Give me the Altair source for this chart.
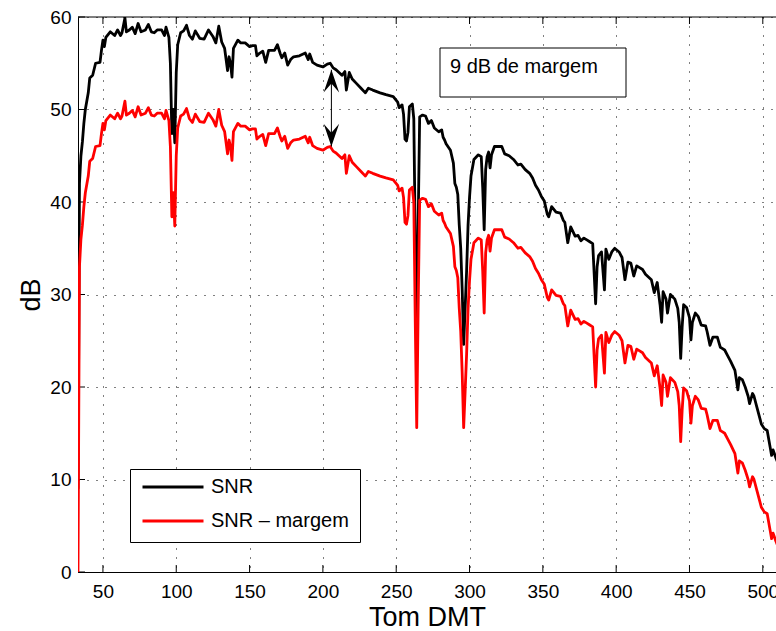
import altair as alt
import pandas as pd

# ---- data ----
TONS = [33, 34, 35, 36, 37, 38, 40, 41, 43, 45, 48, 49, 50, 51, 52, 55, 58, 60, 62, 63,
        65, 66, 68, 70, 72, 74, 76, 79, 81, 83, 85, 87, 90, 92, 93, 95, 96, 97, 98, 99,
        100, 101, 103, 105, 107, 109, 111, 113, 116, 119, 122, 125, 127, 129, 131, 133, 135, 136, 137, 138,
        139, 142, 144, 147, 150, 152, 154, 155, 157, 159, 161, 163, 167, 169, 171, 172, 174, 176, 178, 180,
        184, 188, 190, 191, 193, 196, 200, 203, 205, 207, 209, 211, 213, 215, 216, 218, 220, 223, 226, 229,
        231, 234, 239, 243, 248, 251, 252, 254, 255, 256, 257, 258, 259, 261, 262, 263, 264, 265, 266, 268,
        270, 272, 274, 276, 279, 281, 282, 283, 284, 287, 289, 290, 291, 292, 293, 294, 295, 296, 297, 298,
        299, 300, 301, 303, 306, 308, 309, 310, 311, 312, 313, 314, 315, 317, 322, 324, 327, 330, 333, 335,
        338, 341, 343, 345, 347, 349, 351, 353, 354, 356, 359, 362, 364, 365, 367, 369, 372, 374, 376, 378,
        380, 382, 384, 386, 387, 388, 390, 392, 393, 395, 397, 399, 402, 404, 406, 408, 410, 412, 414, 416,
        418, 420, 422, 424, 426, 428, 430, 431, 432, 434, 435, 437, 440, 442, 443, 444, 445, 446, 448, 450,
        451, 452, 454, 456, 458, 461, 462, 464, 466, 469, 471, 472, 474, 476, 478, 481, 483, 484, 486, 488,
        490, 491, 493, 494, 496, 498, 499, 501, 503, 505, 506, 507, 509, 511]
SNR = [9.0, 42.0, 45.0, 46.5, 48.5, 50.0, 51.8, 53.4, 53.7, 55.0, 55.1, 56.4, 57.5, 56.8, 57.8, 58.4, 58.0, 58.6, 58.0, 58.3,
       59.9, 58.4, 58.6, 58.9, 58.2, 59.3, 58.4, 58.6, 59.2, 58.4, 58.3, 58.6, 58.6, 58.0, 58.9, 57.8, 55.0, 47.4, 50.0, 46.4,
       54.0, 57.0, 58.3, 58.5, 59.1, 58.0, 57.6, 58.5, 57.7, 57.6, 58.6, 57.9, 57.2, 59.0, 57.3, 56.6, 54.2, 55.7, 55.0, 53.5,
       56.6, 57.5, 57.2, 57.2, 56.8, 56.9, 56.9, 55.8, 56.1, 56.3, 55.1, 56.4, 56.4, 57.0, 56.0, 55.6, 56.1, 54.8, 55.4, 55.7,
       55.8, 56.1, 55.4, 56.0, 55.1, 54.8, 54.6, 54.9, 55.0, 54.5, 54.3, 54.0, 53.7, 54.1, 52.1, 54.0, 53.3, 52.8, 52.3, 51.8,
       52.3, 52.1, 51.8, 51.6, 51.4, 50.8, 50.2, 50.5, 49.5, 46.8, 46.6, 47.5, 50.3, 50.6, 49.0, 36.0, 24.6, 38.0, 49.2, 49.4,
       49.3, 48.5, 48.8, 48.0, 47.6, 47.8, 47.0, 46.7, 46.3, 45.6, 44.2, 42.0, 41.6, 40.8, 37.5, 35.0, 30.5, 24.6, 28.5, 32.5,
       37.5, 40.5, 42.8, 44.6, 45.1, 44.9, 41.5, 37.0, 43.5, 44.9, 45.4, 43.7, 45.1, 46.0, 46.0, 45.2, 45.0, 44.6, 44.0, 44.1,
       43.5, 43.1, 42.6, 41.8, 41.3, 40.6, 40.1, 38.7, 38.4, 39.5, 38.9, 38.8, 38.0, 37.8, 35.6, 37.3, 36.3, 36.4, 35.8, 36.1,
       35.9, 35.7, 35.5, 29.0, 33.0, 34.2, 34.6, 30.5, 34.9, 33.8, 34.6, 35.0, 34.6, 34.0, 31.6, 33.5, 33.4, 32.0, 33.1, 32.9,
       32.7, 32.2, 31.9, 31.6, 30.2, 31.3, 28.8, 27.0, 30.3, 29.5, 28.0, 30.0, 29.5, 28.5, 27.0, 23.1, 26.5, 28.9, 28.6, 27.5,
       25.1, 27.0, 28.0, 27.6, 26.7, 26.6, 26.0, 24.5, 25.4, 25.4, 24.3, 24.2, 24.0, 23.4, 22.8, 21.8, 19.7, 21.0, 20.8, 20.0,
       19.0, 18.2, 19.3, 19.0, 17.8, 16.6, 16.0, 15.5, 15.3, 13.5, 12.6, 13.2, 12.3, 11.5]
MARGEM = 9  # "9 dB de margem"
SNR_MARGEM = [round(v - MARGEM, 1) for v in SNR]

SERIES = ["SNR", "SNR \u2013 margem"]
COLORS = ["#000000", "#ff0000"]
X_TICKS = [50, 100, 150, 200, 250, 300, 350, 400, 450, 500]
Y_TICKS = [0, 10, 20, 30, 40, 50, 60]
X_DOMAIN = [33, 509]
Y_DOMAIN = [0, 60]

# arrow between the curves
ARROW_TOM = [205.8]
ARROW_TOP = [54.3]
ARROW_BOTTOM = [46.0]
ANNOT_TEXT = ["9 dB de margem"]

FONT = "Liberation Sans"
W, H = 698, 555
LW = 2.8

df_snr = pd.DataFrame({"tom": TONS, "db": SNR, "serie": SERIES[0]})
df_red = pd.DataFrame({"tom": TONS, "db": SNR_MARGEM, "serie": SERIES[1]})

x_scale = alt.Scale(domain=X_DOMAIN, nice=False, zero=False)
y_scale = alt.Scale(domain=Y_DOMAIN, nice=False, zero=False)

legend = alt.Legend(
    orient="none", legendX=52, legendY=452, title=None,
    symbolType="stroke", symbolSize=3721, symbolStrokeWidth=LW,
    labelFont=FONT, labelFontSize=20, labelColor="black", labelOffset=6,
    padding=11, rowPadding=14, clipHeight=14,
    strokeColor="black", fillColor="white",
)
color = alt.Color("serie:N", scale=alt.Scale(domain=SERIES, range=COLORS), legend=legend)

x_axis = alt.Axis(values=X_TICKS, title="Tom DMT", grid=True, labelPadding=10,
                  labelFlush=False, labelOverlap=False,
                  titleY=53, titleBaseline="alphabetic")
y_axis = alt.Axis(values=Y_TICKS, title="dB", grid=True, labelPadding=7,
                  labelFlush=False, labelOverlap=False,
                  titleX=-39, titleBaseline="alphabetic")


def X(field):
    return alt.X(field, scale=x_scale, axis=x_axis)


def Y(field):
    return alt.Y(field, scale=y_scale, axis=y_axis)


line_snr = alt.Chart(df_snr).mark_line(strokeWidth=LW, clip=True, strokeJoin="round").encode(
    x=X("tom:Q"), y=Y("db:Q"), color=color,
)
line_red = alt.Chart(df_red).mark_line(strokeWidth=LW, clip=True, strokeJoin="round").encode(
    x=X("tom:Q"), y=Y("db:Q"), color=color,
)

# inward ticks (MATLAB style)
xt = pd.DataFrame({"tom": X_TICKS})
yt = pd.DataFrame({"db": Y_TICKS})
tick_bottom = alt.Chart(xt).mark_rule(color="black", strokeWidth=1).encode(
    x=X("tom:Q"), y=alt.value(H), y2=alt.value(H - 7))
tick_top = alt.Chart(xt).mark_rule(color="black", strokeWidth=1).encode(
    x=X("tom:Q"), y=alt.value(0), y2=alt.value(7))
tick_left = alt.Chart(yt).mark_rule(color="black", strokeWidth=1).encode(
    y=Y("db:Q"), x=alt.value(0), x2=alt.value(7))
one = pd.DataFrame({"a": [0]})
top_border = alt.Chart(one).mark_rule(color="black", strokeWidth=1).encode(
    x=alt.value(0), x2=alt.value(W), y=alt.value(0))

# double arrow
arrow_df = pd.DataFrame({"tom": ARROW_TOM, "db": ARROW_TOP, "db2": ARROW_BOTTOM})
shaft = alt.Chart(arrow_df).mark_rule(color="black", strokeWidth=1).encode(
    x=X("tom:Q"), y=Y("db:Q"), y2="db2:Q")
head_up = alt.Chart(arrow_df).mark_point(
    shape="M0,0 L0.68,2 L0,1.2 L-0.68,2 Z", size=520, filled=True,
    color="black", opacity=1, strokeWidth=0).encode(
    x=X("tom:Q"), y=Y("db:Q"))
head_down = alt.Chart(arrow_df).mark_point(
    shape="M0,0 L0.68,-2 L0,-1.2 L-0.68,-2 Z", size=520, filled=True,
    color="black", opacity=1, strokeWidth=0).encode(
    x=X("tom:Q"), y=Y("db2:Q"))

# annotation text box
box = alt.Chart(one).mark_rect(fill="white", stroke="black", strokeWidth=1).encode(
    x=alt.value(362), x2=alt.value(548), y=alt.value(31), y2=alt.value(80))
annot = alt.Chart(pd.DataFrame({"txt": ANNOT_TEXT})).mark_text(
    align="left", baseline="alphabetic", font=FONT, fontSize=20, color="black").encode(
    x=alt.value(372), y=alt.value(56), text="txt:N")

chart = alt.layer(
    line_snr, tick_bottom, tick_top, tick_left, line_red, top_border,
    shaft, head_up, head_down, box, annot,
).properties(
    width=W, height=H,
    autosize=alt.AutoSizeParams(type="none"),
    padding={"left": 78, "top": 17, "right": 0, "bottom": 59},
).configure_view(stroke=None).configure_axis(
    domainColor="black", domainWidth=1,
    gridColor="black", gridDash=[1, 8], gridWidth=1, gridOpacity=1,
    labelFont=FONT, labelFontSize=19, labelColor="black",
    titleFont=FONT, titleFontSize=27, titleFontWeight="normal", titleColor="black",
    ticks=False, tickSize=0,
)

chart.save("out.html", embed_options={"renderer": "svg", "actions": False})
